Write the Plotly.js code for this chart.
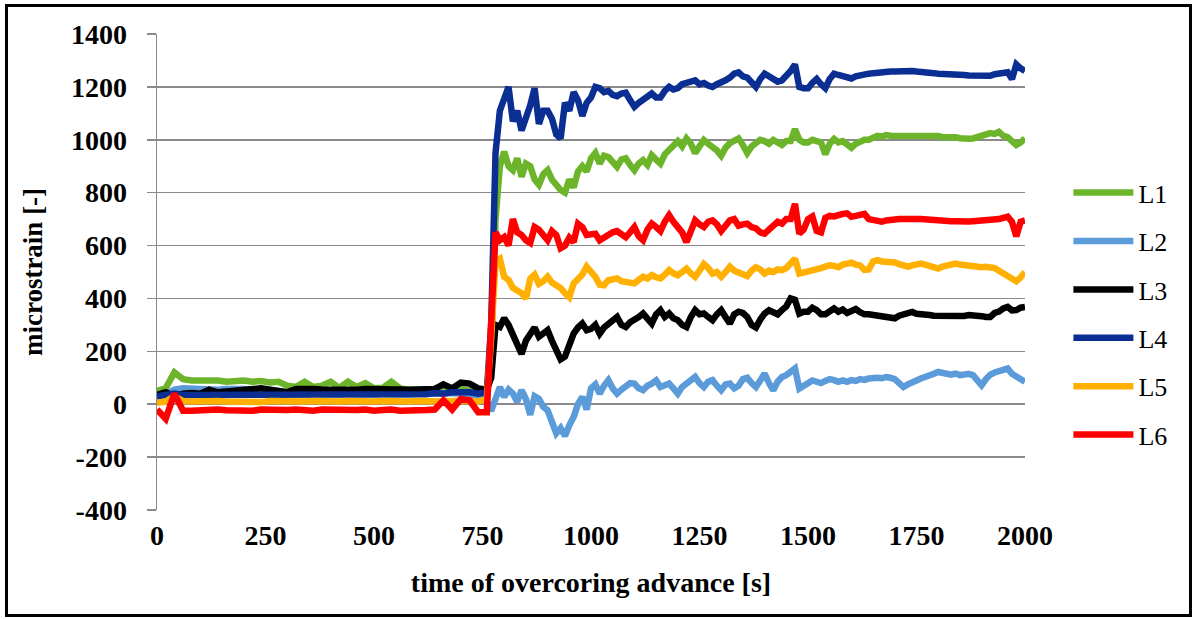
<!DOCTYPE html>
<html>
<head>
<meta charset="utf-8">
<script src="https://cdn.plot.ly/plotly-3.0.1.min.js"></script>
<style>
  html, body { margin: 0; padding: 0; background: #fff; }
  #wrap { position: relative; width: 1194px; height: 619px; }
  #chart { width: 1194px; height: 619px; }
  #frame { position: absolute; left: 5px; top: 4px; width: 1181px; height: 607px; border: 3px solid #000; pointer-events: none; }
</style>
</head>
<body>
<div id="wrap"><div id="chart"></div><div id="frame"></div></div>
<script>
// time of overcoring advance [s]
const timePre = [0,20,40,60,80,100,120,140,160,180,200,220,240,260,280,300,320,340,360,380,400,420,440,460,480,500,520,540,560,580,600,620,640,660,680,700,720,740];
const timeJump = [760,770,780,790];
const timePost = [800,810,820,830,840,850,860,870,880,890,
  900,910,920,930,940,950,960,970,980,990,
  1000,1010,1020,1030,1040,1050,1060,1070,1080,1090,
  1100,1110,1120,1130,1140,1150,1160,1170,1180,1190,
  1200,1210,1220,1230,1240,1250,1260,1270,1280,1290,
  1300,1310,1320,1330,1340,1350,1360,1370,1380,1390,
  1400,1410,1420,1430,1440,1450,1460,1470,1480,1490,
  1500,1510,1520,1530,1540,1550,1560,1570,1580,1590,
  1600,1610,1620,1630,1640,1650,1660,1670,1680,1690,
  1700,1710,1720,1730,1740,1750,1760,1770,1780,1790,
  1800,1810,1820,1830,1840,1850,1860,1870,1880,1890,
  1900,1910,1920,1930,1940,1950,1960,1970,1980,1990,
  2000];
const time = timePre.concat(timeJump, timePost);

const seriesNames = ["L1","L2","L3","L4","L5","L6"];
const seriesColors = ["#6cb52a","#5b9bd9","#000000","#0a2e91","#ffb000","#ff0000"];

// microstrain [-]
const L1 = [50,60,120,95,90,92,88,90,85,88,90,85,88,82,85,70,65,85,65,70,85,62,85,65,80,60,62,85,60,55,58,55,55,60,55,58,50,45,
  60,200,700,900,
  955,900,885,930,860,910,900,850,830,870,
  885,850,830,810,800,850,820,880,900,880,
  930,950,910,940,935,915,898,925,930,905,
  885,910,923,905,942,925,910,945,961,980,
  995,975,1005,985,950,975,999,985,974,960,
  940,970,987,995,1005,980,950,975,987,1000,
  995,985,999,990,980,995,995,1040,1000,990,
  990,1000,998,990,945,985,1003,990,995,985,
  970,985,995,1000,1000,1010,1015,1012,1018,1015,
  1015,1020,1018,1014,1016,1020,1020,1016,1018,1015,
  1014,1010,1012,1008,1010,1006,1008,1004,1005,1010,
  1015,1020,1025,1022,1030,1015,1010,995,980,990,
  1005];
const L2 = [20,40,55,60,58,60,58,55,58,60,58,55,58,55,50,45,40,42,40,38,40,38,40,38,40,38,40,38,40,38,40,38,40,42,40,42,40,30,
  10,-25,20,65,
  28,55,40,10,53,20,-40,30,20,-10,
  -23,-60,-110,-90,-120,-80,-48,0,28,-20,
  60,75,40,70,91,60,40,55,65,80,
  78,60,53,70,78,90,65,70,78,60,
  40,65,78,95,103,80,65,85,91,70,
  53,75,78,60,70,95,100,80,65,90,
  116,80,53,85,103,110,120,135,59,70,
  80,90,85,80,88,95,91,85,90,85,
  91,88,95,92,97,100,100,98,103,100,
  95,80,65,75,85,90,97,105,110,115,
  122,118,118,112,116,110,112,115,110,90,
  72,95,112,120,125,130,135,115,103,95,
  85];
const L3 = [35,45,30,40,42,40,55,45,48,50,58,55,60,55,52,45,58,55,58,56,55,58,56,55,58,56,55,58,56,55,58,56,58,75,60,82,78,60,
  55,100,300,292,
  325,300,260,230,190,240,265,290,255,270,
  280,240,200,170,180,230,267,290,305,280,
  285,300,267,290,305,320,330,300,292,310,
  318,330,343,320,305,340,356,330,343,325,
  318,300,292,330,356,340,343,330,318,340,
  356,330,305,340,350,345,330,300,290,320,
  343,355,350,340,356,370,400,395,343,350,
  350,365,356,340,340,355,362,350,358,345,
  352,360,348,340,340,338,335,332,330,328,
  325,335,340,345,349,342,342,336,337,335,
  335,332,332,330,330,334,334,337,337,332,
  333,330,330,345,350,362,368,355,356,365,
  368];
const L4 = [30,35,40,35,35,38,35,40,38,35,38,40,36,38,35,40,38,35,40,38,36,40,38,35,38,40,38,36,40,38,40,38,42,40,45,48,45,40,
  45,300,950,1110,
  1150,1200,1070,1110,1035,1080,1130,1195,1060,1110,
  1110,1080,1020,1005,1140,1110,1180,1150,1090,1140,
  1160,1200,1195,1180,1185,1170,1165,1175,1178,1150,
  1125,1140,1150,1165,1175,1160,1160,1185,1200,1190,
  1195,1210,1215,1220,1225,1210,1215,1205,1200,1210,
  1215,1225,1235,1250,1255,1240,1235,1215,1200,1230,
  1250,1240,1230,1220,1225,1240,1260,1285,1200,1195,
  1195,1215,1230,1210,1195,1230,1250,1245,1240,1235,
  1232,1240,1245,1250,1250,1252,1255,1255,1255,1258,
  1258,1260,1260,1258,1260,1258,1258,1255,1255,1252,
  1250,1250,1248,1247,1247,1245,1245,1243,1242,1240,
  1240,1242,1242,1248,1250,1255,1255,1230,1285,1270,
  1260];
const L5 = [5,10,30,12,10,12,10,12,10,8,12,10,8,12,10,12,8,10,12,10,8,10,12,10,8,10,12,10,8,10,12,10,12,10,12,15,12,10,
  20,250,540,550,
  482,470,440,430,420,400,475,490,455,465,
  482,460,450,440,420,405,457,470,490,520,
  500,482,452,450,469,470,476,465,463,460,
  457,470,482,475,488,480,476,490,507,495,
  488,500,513,495,482,505,530,515,494,500,
  482,500,520,505,500,495,485,505,518,510,
  494,505,500,510,507,515,530,550,494,498,
  498,502,505,515,520,525,523,518,528,530,
  535,528,525,508,510,540,545,540,540,538,
  536,530,522,520,525,530,532,528,522,518,
  513,520,525,530,532,528,525,522,520,520,
  518,520,520,515,505,495,482,470,465,480,
  500];
const L6 = [-20,-55,40,-25,-25,-22,-25,-20,-23,-25,-22,-25,-20,-22,-25,-22,-20,-22,-25,-20,-22,-20,-25,-22,-20,-25,-22,-20,-25,-22,-20,-22,-20,15,-20,20,15,-30,
  -30,300,650,620,
  632,600,700,650,640,620,610,670,660,640,
  620,655,640,590,600,630,613,683,670,640,
  640,645,620,630,645,650,655,645,632,650,
  670,635,620,660,683,670,655,690,715,690,
  670,650,613,660,695,680,670,690,695,680,
  655,675,695,700,675,680,683,670,665,650,
  645,660,675,690,683,700,700,758,645,660,
  700,710,655,650,705,712,710,718,720,722,
  709,712,718,720,700,698,692,690,695,698,
  698,700,700,702,702,700,700,698,697,695,
  695,694,693,692,692,690,690,691,692,693,
  694,695,695,698,700,705,709,690,635,690,
  695];

const yTickVals = [-400,-200,0,200,400,600,800,1000,1200,1400];
const yTickText = ["-400","-200","0","200","400","600","800","1000","1200","1400"];
const xTickVals = [0,250,500,750,1000,1250,1500,1750,2000];

const allSeries = [L1,L2,L3,L4,L5,L6];
allSeries.forEach((s,i)=>{ if (s.length !== time.length) console.error(seriesNames[i]+" length "+s.length+" vs "+time.length); });

const traces = allSeries.map((s,i)=>({
  type: "scatter", mode: "lines", name: seriesNames[i], legendgroup: seriesNames[i],
  x: time, y: s,
  line: { color: seriesColors[i], width: 6.5 }
}));

const serif = "Liberation Serif, Times New Roman, serif";
const tickFont = { family: serif, size: 28, color: "#000", weight: "bold" };
const layout = {
  width: 1194, height: 619,
  margin: { l: 157, r: 169, t: 34, b: 109 },
  paper_bgcolor: "#fff", plot_bgcolor: "#fff",
  showlegend: true,
  legend: {
    x: 1.05, y: 0.716, xanchor: "left", yanchor: "top",
    font: { family: serif, size: 26, color: "#000" },
    tracegroupgap: 11.6, itemwidth: 60, bgcolor: "rgba(0,0,0,0)"
  },
  xaxis: {
    range: [0, 2000], tickmode: "array", tickvals: xTickVals,
    showgrid: false, zeroline: false, showline: false, ticks: "",
    tickfont: tickFont, ticklabelstandoff: 6,
    title: { text: "time of overcoring advance [s]", font: { family: serif, size: 28, color: "#000", weight: "bold" }, standoff: 22 }
  },
  yaxis: {
    range: [-400, 1400], tickmode: "array", tickvals: yTickVals, ticktext: yTickText,
    showgrid: true, gridcolor: "#8a8a8a", gridwidth: 1.5,
    zeroline: false, showline: true, linecolor: "#8a8a8a", linewidth: 1.5,
    ticks: "outside", ticklen: 9, tickcolor: "#8a8a8a", tickwidth: 1.5,
    tickfont: tickFont, ticklabelstandoff: 14,
    title: { text: "microstrain [-]", font: { family: serif, size: 27, color: "#000", weight: "bold" }, standoff: 20 }
  }
};
Plotly.newPlot("chart", traces, layout, { displayModeBar: false, staticPlot: true });
</script>
</body>
</html>
